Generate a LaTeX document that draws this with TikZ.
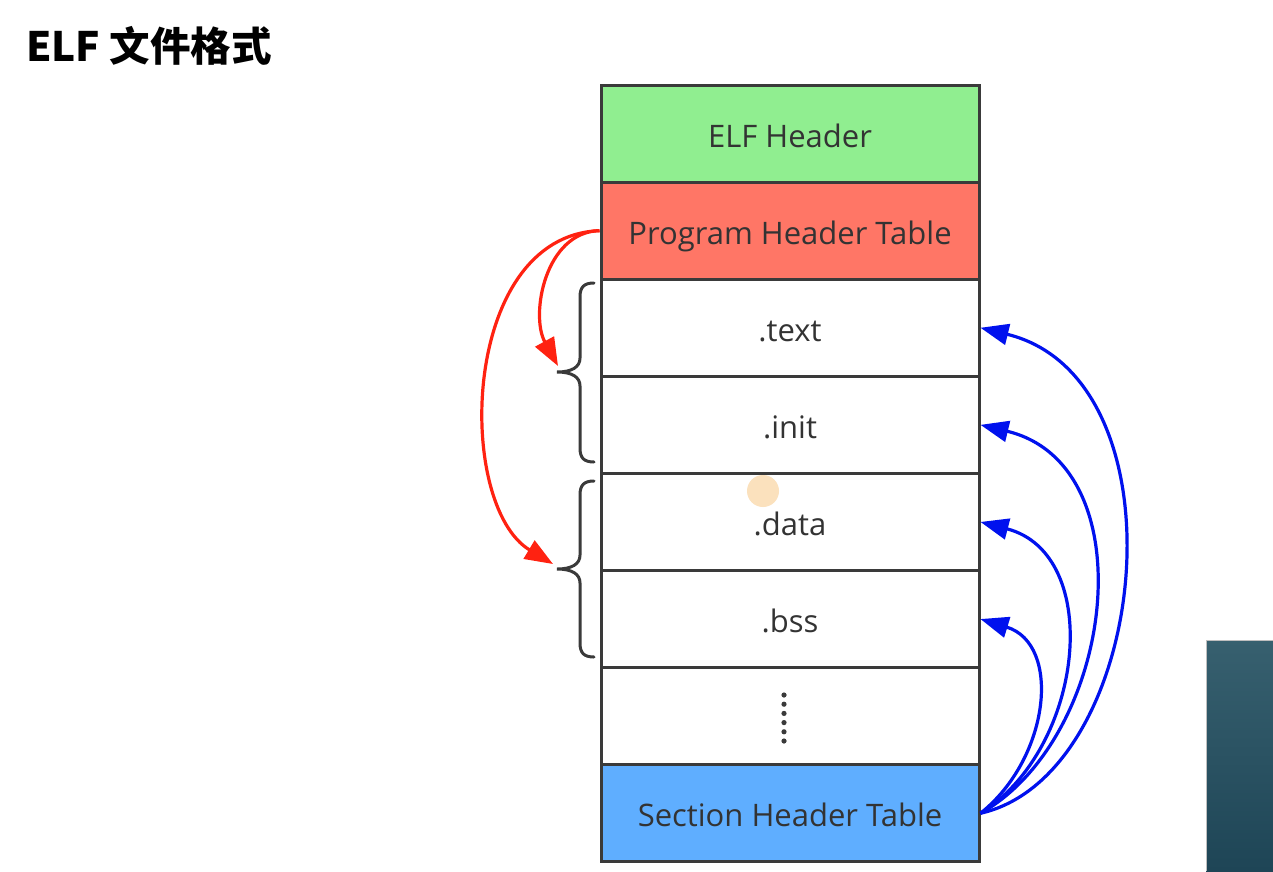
\documentclass[tikz,border=0pt]{standalone}
\usepackage{fontspec}
\setmainfont{Open Sans}
\newfontfamily\cjk{Noto Sans CJK SC}
\usetikzlibrary{arrows.meta}
\definecolor{hdrgreen}{HTML}{90EE90}
\definecolor{phtred}{HTML}{FF7666}
\definecolor{shtblue}{HTML}{5FAEFF}
\definecolor{edgegray}{HTML}{3A3A3A}
\definecolor{txtgray}{HTML}{333333}
\definecolor{arrred}{HTML}{FF2211}
\definecolor{arrblue}{HTML}{0011EE}
\definecolor{cursorpeach}{HTML}{FBE1BD}
\definecolor{tealtop}{HTML}{37606F}
\definecolor{tealbot}{HTML}{1E4556}
\begin{document}
\begin{tikzpicture}[x=1pt,y=-1pt,
  seg/.style={draw=edgegray, line width=3pt, minimum width=378pt, minimum height=97.1pt,
    inner sep=0pt, font=\fontsize{31}{34}\selectfont, text=txtgray,
    text height=33pt, text depth=6pt},
  brc/.style={draw=edgegray, line width=3pt, line cap=round},
  redarr/.style={draw=arrred, line width=3.2pt, -{Triangle[length=28pt,width=21pt]}},
  bluearr/.style={draw=arrblue, line width=3.2pt, -{Triangle[length=28pt,width=21pt]}}]
\useasboundingbox (0,0) rectangle (1273,871);
\fill[white] (0,0) rectangle (1273,871);
% title
\node[anchor=base west, inner sep=0pt, font=\cjk\bfseries\fontsize{40.5}{44}\selectfont] (title) at (26,61) {ELF 文件格式};
% stack
\node[seg, fill=hdrgreen] (elf)  at (790,133.55) {ELF Header};
\node[seg, fill=phtred]   (pht)  at (790,230.65) {Program Header Table};
\node[seg, fill=white]    (text) at (790,327.75) {.text};
\node[seg, fill=white]    (init) at (790,424.85) {.init};
\node[seg, fill=white]    (data) at (790,521.95) {.data};
\node[seg, fill=white]    (bss)  at (790,619.05) {.bss};
\node[seg, fill=white]    (more) at (790,716.15) {};
\node[seg, fill=shtblue]  (sht)  at (790,813.25) {Section Header Table};
\foreach \i in {0,...,5} \fill[edgegray] (784,695+9.2*\i) circle (2.6);
% cursor highlight
\fill[cursorpeach] (763,491) circle (16);
% braces
\coordinate (braceA) at (557,372);
\coordinate (braceB) at (557,569);
\draw[brc] (594,283) .. controls (584,283) and (580,287) .. (580,297) -- (580,358)
  .. controls (580,367) and (572,372) .. (braceA)
  .. controls (572,372) and (580,377) .. (580,386) -- (580,448)
  .. controls (580,458) and (584,462) .. (594,462);
\draw[brc] (594,481) .. controls (584,481) and (580,485) .. (580,495) -- (580,555)
  .. controls (580,564) and (572,569) .. (braceB)
  .. controls (572,569) and (580,574) .. (580,583) -- (580,643)
  .. controls (580,653) and (584,657) .. (594,657);
% red arrows
\coordinate (tipA) at (558,366);
\coordinate (tipB) at (553,564);
\draw[redarr] (pht.west) .. controls (545,232) and (530,315) .. (tipA);
\draw[redarr] (pht.west) .. controls (460,236) and (455,505) .. (tipB);
% blue arrows
\draw[bluearr] (sht.east) .. controls (1150,775) and (1190,379) .. (text.east);
\draw[bluearr] (sht.east) .. controls (1115,738) and (1148,465) .. (init.east);
\draw[bluearr] (sht.east) .. controls (1085,748) and (1104,554) .. (data.east);
\draw[bluearr] (sht.east) .. controls (1050,758) and (1062,644) .. (bss.east);
% side panel
\shade[top color=tealtop, bottom color=tealbot] (1206,640) rectangle (1273,871);
\draw[gray!50, line width=1pt] (1206,871) -- (1206,640) -- (1273,640);
\end{tikzpicture}
\end{document}
